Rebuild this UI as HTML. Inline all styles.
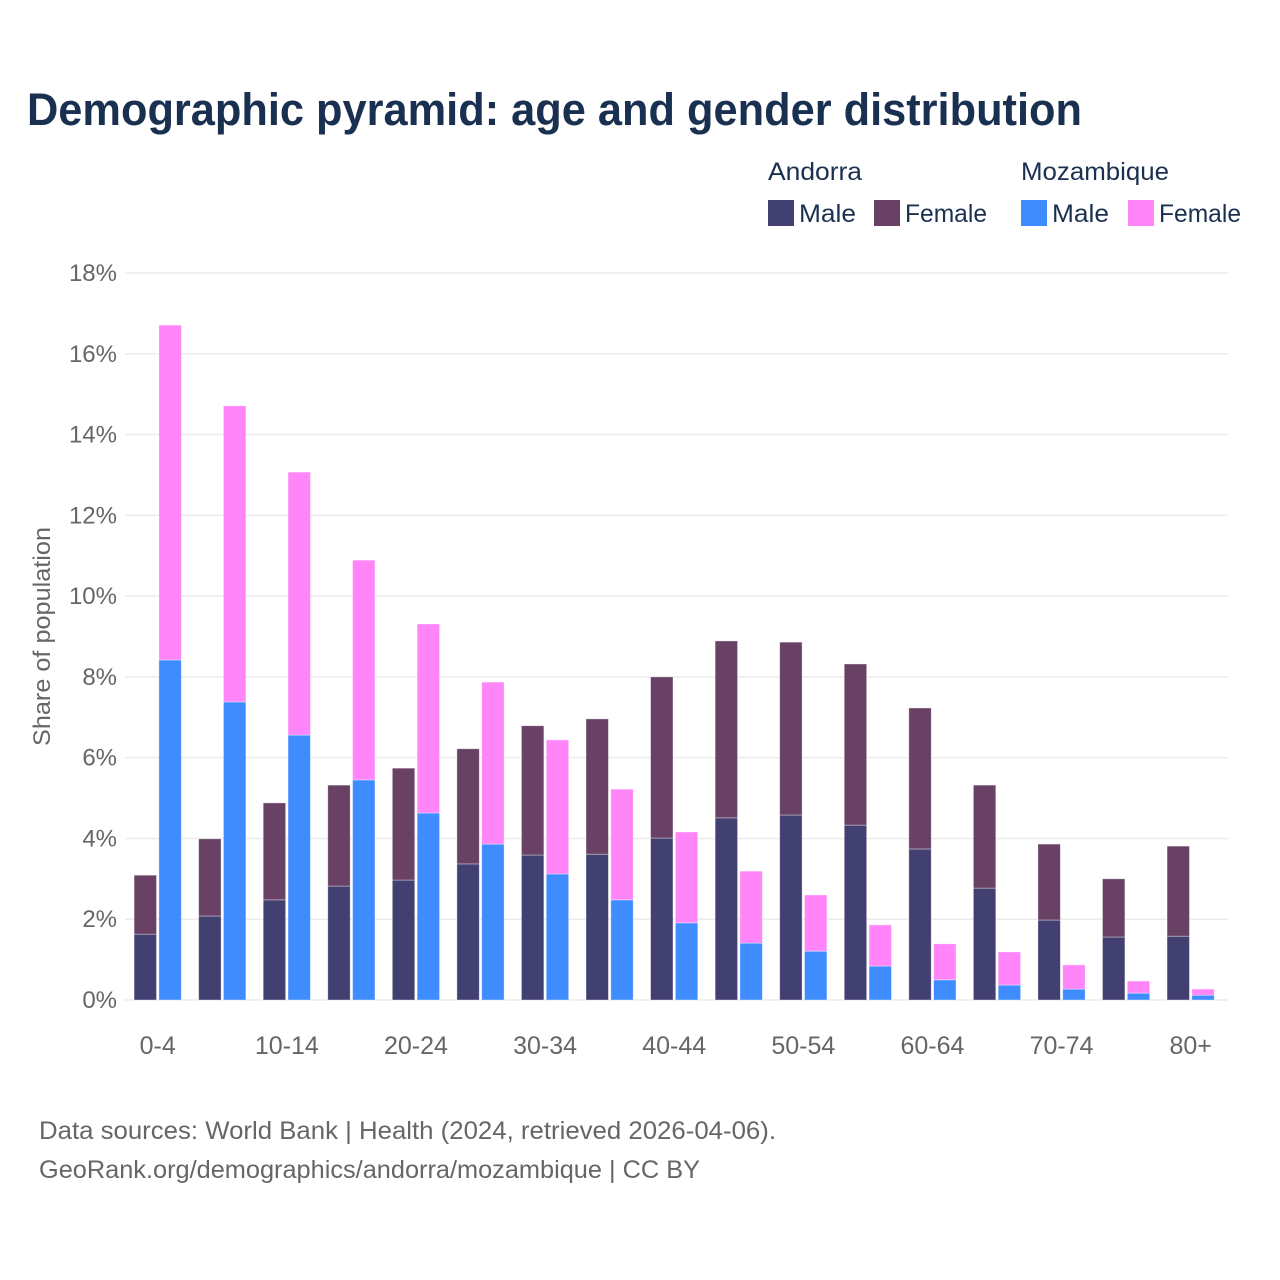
<!DOCTYPE html>
<html lang="en">
<head>
<meta charset="utf-8">
<title>Demographic pyramid: age and gender distribution</title>
<style>
html,body{margin:0;padding:0;background:#fff;width:1280px;height:1280px;overflow:hidden}
svg{display:block;font-family:"Liberation Sans",sans-serif}
</style>
</head>
<body>
<svg id="chart" xmlns="http://www.w3.org/2000/svg" width="1280" height="1280" viewBox="0 0 1280 1280">
  <rect x="0" y="0" width="1280" height="1280" fill="#fff"/>
  <text x="27" y="125" font-size="45" font-weight="700" fill="#1a3050" textLength="1055" lengthAdjust="spacingAndGlyphs">Demographic pyramid: age and gender distribution</text>

  <g font-size="25" fill="#1a3050">
    <text x="768" y="180" textLength="94" lengthAdjust="spacingAndGlyphs">Andorra</text>
    <text x="1021" y="180" textLength="148" lengthAdjust="spacingAndGlyphs">Mozambique</text>
    <rect x="768" y="200" width="26" height="26" fill="#423f71"/>
    <text x="799" y="222" textLength="57" lengthAdjust="spacingAndGlyphs">Male</text>
    <rect x="874" y="200" width="26" height="26" fill="#684164"/>
    <text x="905" y="222" textLength="82" lengthAdjust="spacingAndGlyphs">Female</text>
    <rect x="1021" y="200" width="26" height="26" fill="#3f8cff"/>
    <text x="1052" y="222" textLength="57" lengthAdjust="spacingAndGlyphs">Male</text>
    <rect x="1128" y="200" width="26" height="26" fill="#ff85f9"/>
    <text x="1159" y="222" textLength="82" lengthAdjust="spacingAndGlyphs">Female</text>
  </g>

  <g id="grid"></g>
  <g id="yticks" font-size="24" fill="#666"></g>
  <g id="bars"></g>
  <g id="xticks" font-size="25" fill="#666"></g>

  <text transform="translate(50 636.5) rotate(-90)" text-anchor="middle" font-size="24" fill="#666" textLength="219" lengthAdjust="spacingAndGlyphs">Share of population</text>

  <text x="39" y="1139" font-size="25" fill="#666" textLength="737" lengthAdjust="spacingAndGlyphs">Data sources: World Bank | Health (2024, retrieved 2026-04-06).</text>
  <text x="39" y="1178" font-size="25" fill="#666" textLength="661" lengthAdjust="spacingAndGlyphs">GeoRank.org/demographics/andorra/mozambique | CC BY</text>
</svg>

<script>
const categories = ["0-4","5-9","10-14","15-19","20-24","25-29","30-34","35-39","40-44","45-49","50-54","55-59","60-64","65-69","70-74","75-79","80+"];
const xTickLabels = ["0-4","10-14","20-24","30-34","40-44","50-54","60-64","70-74","80+"];
const yTickValues = [0,2,4,6,8,10,12,14,16,18];
const andorraMale = [1.63,2.08,2.48,2.82,2.97,3.37,3.59,3.61,4.01,4.51,4.58,4.33,3.74,2.77,1.98,1.56,1.58];
const andorraFemale = [1.46,1.91,2.40,2.50,2.77,2.85,3.20,3.35,3.99,4.38,4.28,3.99,3.49,2.55,1.88,1.44,2.23];
const mozambiqueMale = [8.42,7.38,6.56,5.45,4.63,3.86,3.12,2.48,1.91,1.41,1.21,0.84,0.50,0.37,0.27,0.17,0.12];
const mozambiqueFemale = [8.29,7.33,6.51,5.44,4.68,4.01,3.32,2.74,2.25,1.78,1.39,1.02,0.89,0.82,0.60,0.30,0.15];

const NS = "http://www.w3.org/2000/svg";
function yScale(v) { return 1000 - v * (727 / 18); }
function xScale(i) { return 157.7 + i * 64.56; }

const gridGroup = document.getElementById("grid");
const yTickGroup = document.getElementById("yticks");
yTickValues.forEach(function (v) {
  const line = document.createElementNS(NS, "line");
  
  
  line.setAttribute("x1", 125);
  line.setAttribute("x2", 1228);
  line.setAttribute("y1", yScale(v));
  line.setAttribute("y2", yScale(v));
  line.setAttribute("stroke", "#ebebeb");
  line.setAttribute("stroke-width", "1.5");
  gridGroup.appendChild(line);
  const label = document.createElementNS(NS, "text");
  
  
  label.setAttribute("x", 117);
  label.setAttribute("y", yScale(v) + 8);
  label.setAttribute("text-anchor", "end");
  label.textContent = v + "%";
  yTickGroup.appendChild(label);
});

const barsGroup = document.getElementById("bars");
function drawSegment(x, base, value, fill) {
  const r = document.createElementNS(NS, "rect");
  
  
  r.setAttribute("x", x);
  r.setAttribute("y", yScale(base + value));
  r.setAttribute("width", 22.4);
  r.setAttribute("height", yScale(base) - yScale(base + value));
  r.setAttribute("fill", fill);
  r.setAttribute("stroke", "#ffffff");
  r.setAttribute("stroke-opacity", "0.45");
  r.setAttribute("stroke-width", "0.8");
  barsGroup.appendChild(r);
}
categories.forEach(function (c, i) {
  const cx = xScale(i);
  drawSegment(cx - 23.6, 0, andorraMale[i], "#423f71");
  drawSegment(cx - 23.6, andorraMale[i], andorraFemale[i], "#684164");
  drawSegment(cx + 1.2, 0, mozambiqueMale[i], "#3f8cff");
  drawSegment(cx + 1.2, mozambiqueMale[i], mozambiqueFemale[i], "#ff85f9");
});

const xTickGroup = document.getElementById("xticks");
xTickLabels.forEach(function (t) {
  const label = document.createElementNS(NS, "text");
  
  
  label.setAttribute("x", xScale(categories.indexOf(t)));
  label.setAttribute("y", 1054);
  label.setAttribute("text-anchor", "middle");
  label.textContent = t;
  xTickGroup.appendChild(label);
});
</script>
</body>
</html>
